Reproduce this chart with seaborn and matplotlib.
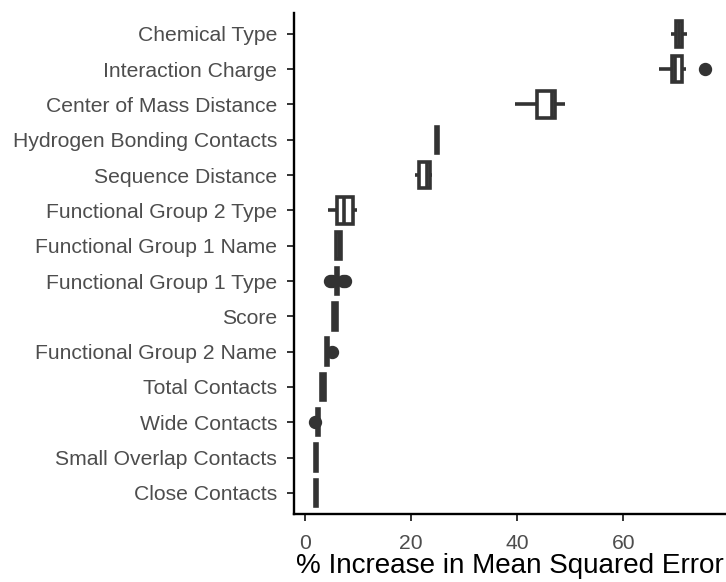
import matplotlib
matplotlib.use("Agg")
import matplotlib.pyplot as plt
import seaborn as sns
import pandas as pd

# Feature importance (% increase in MSE) across repeated model fits
features = [
    "Chemical Type",
    "Interaction Charge",
    "Center of Mass Distance",
    "Hydrogen Bonding Contacts",
    "Sequence Distance",
    "Functional Group 2 Type",
    "Functional Group 1 Name",
    "Functional Group 1 Type",
    "Score",
    "Functional Group 2 Name",
    "Total Contacts",
    "Wide Contacts",
    "Small Overlap Contacts",
    "Close Contacts",
]

chemical_type = [68.9, 69.9, 70.5, 71.0, 72.1]
interaction_charge = [66.7, 68.9, 69.2, 69.5, 69.8, 70.4, 71.0, 71.9, 75.4]
center_of_mass_distance = [39.5, 43.8, 46.6, 47.2, 49.1]
hydrogen_bonding_contacts = [24.6, 24.7, 24.9, 25.1, 25.2]
sequence_distance = [20.8, 21.5, 23.0, 23.5, 24.0]
fg2_type = [4.4, 6.0, 7.4, 9.1, 9.8]
fg1_name = [5.8, 5.8, 6.4, 6.8, 7.0]
fg1_type = [4.8, 5.1, 5.85, 5.95, 6.0, 6.1, 6.2, 6.25, 6.35, 7.2, 7.5]
score = [5.2, 5.3, 5.65, 6.0, 6.1]
fg2_name = [3.7, 3.8, 3.9, 4.0, 4.1, 4.2, 4.3, 4.4, 5.0]
total_contacts = [3.0, 3.1, 3.4, 3.7, 3.8]
wide_contacts = [1.85, 2.3, 2.35, 2.45, 2.5, 2.55, 2.65, 2.8, 2.8]
small_overlap_contacts = [1.8, 1.9, 2.1, 2.3, 2.4]
close_contacts = [1.8, 1.9, 2.05, 2.25, 2.35]

series = [
    chemical_type, interaction_charge, center_of_mass_distance,
    hydrogen_bonding_contacts, sequence_distance, fg2_type, fg1_name,
    fg1_type, score, fg2_name, total_contacts, wide_contacts,
    small_overlap_contacts, close_contacts,
]

df = pd.DataFrame(
    [(name, v) for name, vals in zip(features, series) for v in vals],
    columns=["feature", "value"],
)

sns.set_theme(style="ticks")
plt.rcParams["font.family"] = ["Liberation Sans", "DejaVu Sans"]

fig = plt.figure(figsize=(7.26, 5.82), dpi=100)
ax = fig.add_axes([294 / 726, 68 / 582, (726 - 294) / 726, (514 - 12.7) / 582])

dark = "#333333"
sns.boxplot(
    data=df, x="value", y="feature", order=features, orient="h",
    width=0.75, color="white", linecolor=dark, linewidth=2.6,
    showcaps=False, whis=1.5, fliersize=8.6,
    flierprops=dict(marker="o", markerfacecolor=dark, markeredgecolor=dark),
    ax=ax,
)

ax.set_xlim(-2.07, 79.36)
ax.set_ylim(13.6, -0.6)
ax.set_xticks([0, 20, 40, 60])
ax.set_ylabel("")
ax.set_xlabel("% Increase in Mean Squared Error", fontsize=20.1, color="black",
              labelpad=0)

for side in ["top", "right"]:
    ax.spines[side].set_visible(False)
for side in ["left", "bottom"]:
    ax.spines[side].set_color("black")
    ax.spines[side].set_linewidth(1.7)

ax.tick_params(axis="both", length=5, width=1.4, color=dark,
               labelcolor="#4D4D4D")
ax.tick_params(axis="y", pad=7, labelsize=15.2)
ax.tick_params(axis="x", pad=9.5, labelsize=15.2)

fig.savefig("out.png", dpi=100, facecolor="white")
